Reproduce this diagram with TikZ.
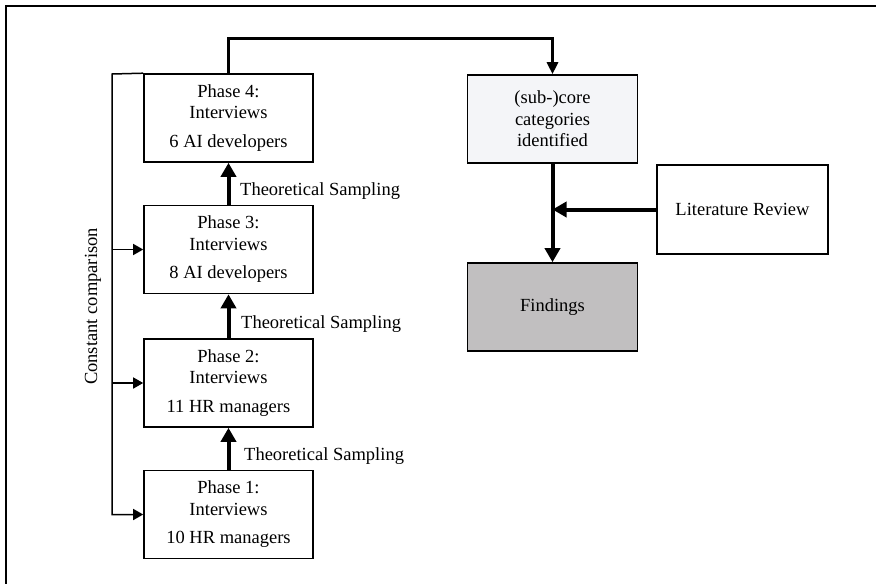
\documentclass[tikz,border=0pt]{standalone}
\usepackage{fontspec}
\setmainfont{Liberation Serif}
\usetikzlibrary{arrows.meta}
\definecolor{corefill}{HTML}{F4F5F8}
\definecolor{findfill}{HTML}{C1BFC0}
\begin{document}
\begin{tikzpicture}[x=1pt,y=-1pt,
  txt/.style={font=\fontsize{18.5}{21.5}\selectfont},
  box/.style={txt, draw, line width=1.6pt, minimum width=169pt, minimum height=88pt,
    inner sep=0pt, align=center},
  flow/.style={line width=4pt, -{Triangle[length=14pt,width=15pt]}},
  link/.style={line width=1.5pt, -{Triangle[length=10pt,width=11pt]}},
  lbl/.style={txt, inner sep=0pt}]
\useasboundingbox (0,0) rectangle (876,584);

% outer frame
\draw[line width=2pt] (6,584) -- (6,6) -- (876,6);

% interview phases
\node[box] (p4) at (228.5,118)   {Phase 4:\\Interviews\\[7pt]6 AI developers};
\node[box] (p3) at (228.5,249.5) {Phase 3:\\Interviews\\[7pt]8 AI developers};
\node[box] (p2) at (228.5,383)   {Phase 2:\\Interviews\\[7pt]11 HR managers};
\node[box] (p1) at (228.5,514.5) {Phase 1:\\Interviews\\[7pt]10 HR managers};

% analysis results
\node[box, fill=corefill, minimum width=170pt] (sub) at (552.5,119)
  {(sub-)core\\categories\\identified};
\node[box, fill=findfill, minimum width=170pt] (find) at (552.5,307) {Findings};
\node[box, minimum width=171pt, minimum height=89pt] (lit) at (742.5,209.5) {Literature Review};

% theoretical sampling between phases
\draw[flow] (p1.north) -- (p2.south);
\draw[flow] (p2.north) -- (p3.south);
\draw[flow] (p3.north) -- (p4.south);
\node[lbl, anchor=base west] (ts3) at (240,195) {Theoretical Sampling};
\node[lbl, anchor=base west] (ts2) at (241,328) {Theoretical Sampling};
\node[lbl, anchor=base west] (ts1) at (244,460) {Theoretical Sampling};

% constant comparison loop
\coordinate (ccTop) at (112,74);
\draw[link] (p4.north west) -- (ccTop) -- (ccTop |- p1.west) -- (p1.west);
\draw[link] (ccTop |- p2.west) -- (p2.west);
\draw[link] (ccTop |- p3.west) -- (p3.west);
\node[lbl, rotate=90, anchor=base] (cc) at (97,306.5) {Constant comparison};

% towards the findings
\draw[line width=3pt, -{Triangle[length=12pt,width=11pt]}]
  (p4.north) -- ++(0,-35) -| (sub.north);
\draw[flow] (sub.south) -- (find.north);
\draw[flow] (lit.west) -- (lit.west -| sub.south);
\end{tikzpicture}
\end{document}
